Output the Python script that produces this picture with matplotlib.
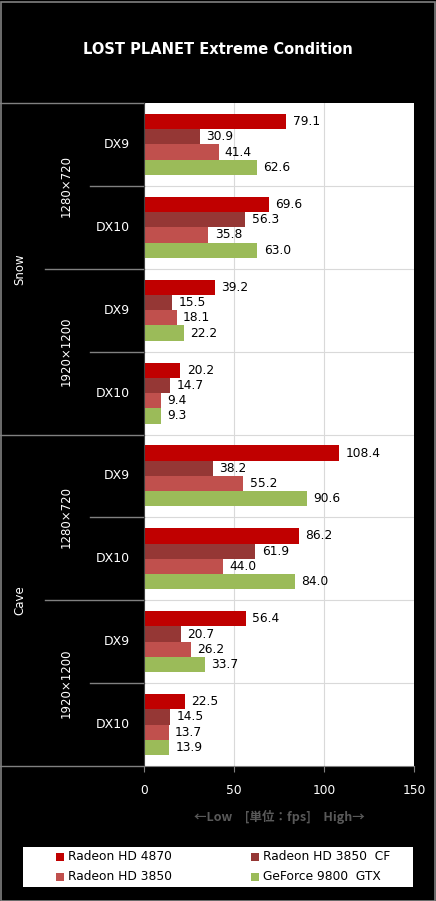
import matplotlib.pyplot as plt
from matplotlib.transforms import blended_transform_factory
import numpy as np

plt.rcParams['font.family'] = ['DejaVu Sans', 'Noto Sans CJK JP']

series = ["Radeon HD 4870", "Radeon HD 3850  CF", "Radeon HD 3850", "GeForce 9800  GTX"]
colors = ["#C00000", "#953735", "#C0504D", "#9BBB59"]
scenes = ["Snow", "Cave"]
resolutions = ["1280×720", "1920×1200"]
apis = ["DX9", "DX10"]

# values per group (scene, resolution, api) -> 4 series
values = [
    [79.1, 30.9, 41.4, 62.6],
    [69.6, 56.3, 35.8, 63.0],
    [39.2, 15.5, 18.1, 22.2],
    [20.2, 14.7, 9.4, 9.3],
    [108.4, 38.2, 55.2, 90.6],
    [86.2, 61.9, 44.0, 84.0],
    [56.4, 20.7, 26.2, 33.7],
    [22.5, 14.5, 13.7, 13.9],
]
xticks = [0, 50, 100, 150]

W, H = 436, 901
fig = plt.figure(figsize=(W / 100, H / 100), dpi=100, facecolor="black")

# outer border
fig.add_artist(plt.Rectangle((0.5 / W, 0.5 / H), (W - 2) / W, (H - 2) / H,
                             transform=fig.transFigure, fill=False,
                             edgecolor="#808080", lw=1.2))

fig.text(218 / W, 1 - 50 / H, "LOST PLANET Extreme Condition", color="white",
         fontsize=10.5, fontweight="bold", ha="center", va="center")

x0, x1, ytop, ybot = 144, 414, 103, 766
ax = fig.add_axes([x0 / W, 1 - ybot / H, (x1 - x0) / W, (ybot - ytop) / H])
ax.set_facecolor("white")

n = len(values)
bh = 0.184
for g, vals in enumerate(values):
    for s, v in enumerate(vals):
        yc = g + 0.5 + (s - 1.5) * bh
        ax.barh(yc, v, height=bh, color=colors[s], edgecolor="none")
        ax.text(v + 3.5, yc, f"{v:.1f}", va="center", ha="left", fontsize=8.8, color="black")

ax.set_xlim(0, 150)
ax.set_ylim(n, 0)
ax.set_yticks([])
ax.set_xticks(xticks)
ax.set_xticklabels([str(t) for t in xticks], color="white", fontsize=8.8)
ax.tick_params(axis="x", length=4, color="#808080", pad=9)
for t in xticks[1:]:
    ax.axvline(t, color="#D9D9D9", lw=0.8, zorder=0)
for g in range(1, n):
    ax.axhline(g, color="#D9D9D9", lw=0.8, zorder=0)
for sp in ["top", "right"]:
    ax.spines[sp].set_visible(False)
ax.spines["left"].set_color("#404040")
ax.spines["bottom"].set_color("#808080")

# left labels and separators
tr = blended_transform_factory(fig.transFigure, ax.transData)
def fx(px):
    return px / W

for g in range(n):
    ax.text(fx(130), g + 0.5, apis[g % 2], transform=tr, color="white",
            fontsize=9, ha="right", va="center")
for r in range(n // 2):
    ax.text(fx(66), 2 * r + 1, resolutions[r % 2], transform=tr, color="white",
            fontsize=8.5, rotation=90, ha="center", va="center")
for s in range(2):
    ax.text(fx(20), 4 * s + 2, scenes[s], transform=tr, color="white",
            fontsize=8.5, rotation=90, ha="center", va="center")

for g in range(0, n + 1):
    if g % 4 == 0:
        start = 0
    elif g % 2 == 0:
        start = 45
    else:
        start = 90
    ax.plot([fx(start), fx(x0)], [g, g], transform=tr, color="#808080",
            lw=1, clip_on=False)

fig.text(fx(279), 1 - 817 / H, "←Low　[単位：fps]　High→", color="#595959",
         fontsize=9, fontweight="bold", ha="center", va="center",
         family=['Noto Sans CJK JP', 'DejaVu Sans'])

# legend box
fig.add_artist(plt.Rectangle((23 / W, 1 - 887 / H), 390 / W, 40 / H,
                             transform=fig.transFigure, facecolor="white",
                             edgecolor="none"))
pos = [(56, 857), (251, 857), (56, 877), (251, 877)]
for (px, py), name, c in zip(pos, series, colors):
    fig.add_artist(plt.Rectangle(((px) / W, 1 - (py + 4) / H), 8 / W, 8 / H,
                                 transform=fig.transFigure, facecolor=c,
                                 edgecolor="none"))
    fig.text((px + 12) / W, 1 - py / H, name, color="black", fontsize=8.8,
             ha="left", va="center")

fig.savefig("out.png", dpi=100, facecolor="black")
